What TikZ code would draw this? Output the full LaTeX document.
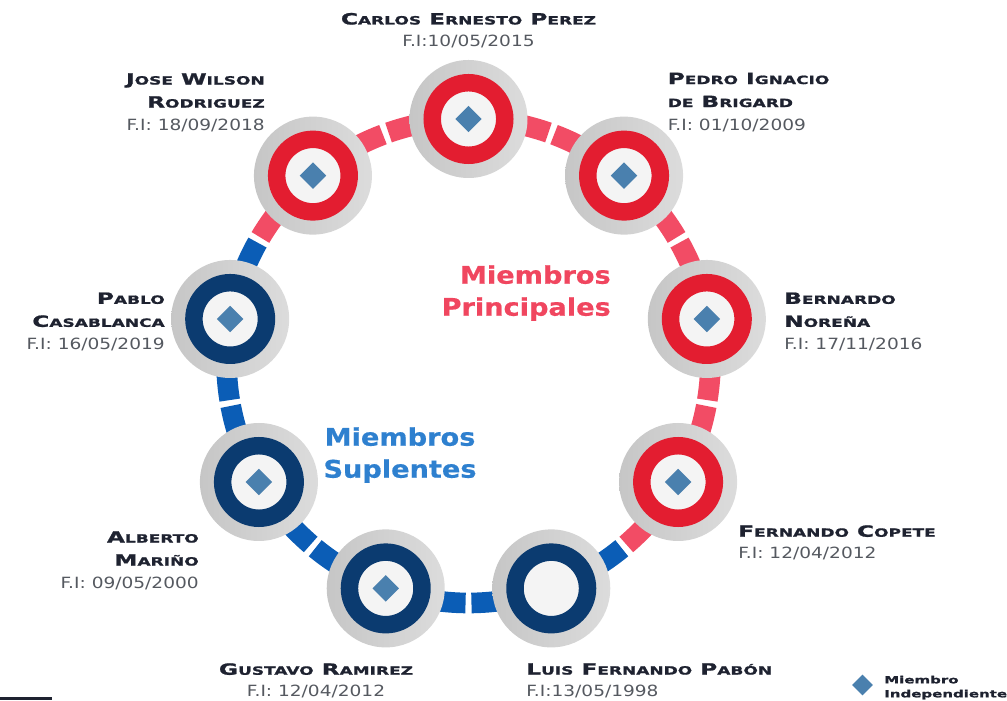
\documentclass[tikz,border=0pt]{standalone}
\usepackage{fontspec}
\setmainfont{DejaVu Sans}
\newfontfamily\namefont{DejaVu Sans}[FakeStretch=1.5,FakeBold=1.3]
\newfontfamily\datefont{DejaVu Sans}[FakeStretch=1.2]
\newfontfamily\titlefont{DejaVu Sans}[FakeStretch=1.12,FakeBold=0.6]
\usetikzlibrary{shapes.geometric,calc}

\definecolor{ringred}{HTML}{E31D30}
\definecolor{ringnavy}{HTML}{0B3B70}
\definecolor{dashred}{HTML}{F24C65}
\definecolor{dashblue}{HTML}{0B5DB6}
\definecolor{markblue}{HTML}{4A80AE}
\definecolor{discdark}{HTML}{C6C6C6}
\definecolor{discmid}{HTML}{E0E0E0}
\definecolor{disclight}{HTML}{DCDCDC}
\definecolor{innerwhite}{HTML}{F4F4F4}
\definecolor{nametext}{HTML}{1E2230}
\definecolor{datetext}{HTML}{555960}
\definecolor{titlered}{HTML}{F0465F}
\definecolor{titleblue}{HTML}{2E80CF}

% fake small caps: first letter big, rest small
\newcommand{\smc}[2]{#1{\fontsize{8.5}{10}\selectfont #2}}
\newcommand{\fidate}[1]{{\datefont\mdseries\color{datetext}\fontsize{11.6}{17}\selectfont #1}}

\begin{document}
\begin{tikzpicture}[x=0.75pt,y=0.75pt]

% --- Global TikZ Styles ---
\tikzset{
    greydisc/.style={
        circle,
        minimum size=88.5pt,
        inner sep=0pt,
        left color=discdark,
        middle color=discmid,
        right color=disclight
    },
    ringdisc/.style={
        circle,
        minimum size=54.4pt,
        inner sep=0pt,
        fill=innerwhite,
        line width=13.1pt
    },
    membermark/.style={
        diamond,
        aspect=1,
        minimum size=20pt,
        inner sep=0pt,
        fill=markblue
    },
    dashseg/.style={
        line width=15.5pt
    },
    namelabel/.style={
        font=\namefont\bfseries\fontsize{11.6}{17.25}\selectfont,
        text=nametext,
        inner sep=0pt
    },
    titlelabel/.style={
        font=\titlefont\bfseries\fontsize{18.2}{24}\selectfont,
        inner sep=0pt
    },
    legendlabel/.style={
        font=\namefont\bfseries\fontsize{7.5}{10.5}\selectfont,
        text=nametext,
        inner sep=0pt
    }
}

\useasboundingbox (0,0) rectangle (1007,700);
\coordinate (ctr) at (468.5,339);

% ==================================================
% --- Dashed ring ---
% ==================================================

\foreach \mid/\colhi/\collo in {70/dashred/dashred, 30/dashred/dashred,
    -10/dashred/dashred, -50/dashred/dashblue, -90/dashblue/dashblue,
    -130/dashblue/dashblue, 190/dashblue/dashblue, 150/dashblue/dashred,
    110/dashred/dashred}{
    \draw[dashseg, draw=\colhi]
        ($(ctr)+(\mid+0.7:242)$) arc[start angle=\mid+0.7, end angle=\mid+12, radius=242];
    \draw[dashseg, draw=\collo]
        ($(ctr)+(\mid-0.7:242)$) arc[start angle=\mid-0.7, end angle=\mid-12, radius=242];
}

% ==================================================
% --- Members ---
% ==================================================

\foreach \ang/\nm/\rc/\hasmark in {90/carlos/ringred/1, 50/pedro/ringred/1,
    10/bernardo/ringred/1, -30/fernando/ringred/1, -70/luis/ringnavy/0,
    -110/gustavo/ringnavy/1, -150/alberto/ringnavy/1, 170/pablo/ringnavy/1,
    130/jose/ringred/1}{
    \node[greydisc] (\nm) at ($(ctr)+(\ang:242)$) {};
    \node[ringdisc, draw=\rc] (\nm ring) at (\nm) {};
    \ifnum\hasmark=1
        \node[membermark] (\nm mark) at (\nm) {};
    \fi
}

% ==================================================
% --- Names ---
% ==================================================

\node[namelabel, anchor=north, align=center] (carloslabel) at (468.5,687.3)
    {\smc{C}{ARLOS} \smc{E}{RNESTO} \smc{P}{EREZ}\\[-0.8pt]\fidate{F.I:10/05/2015}};
\node[namelabel, anchor=north east, align=right] (joselabel) at (265,627)
    {\smc{J}{OSE} \smc{W}{ILSON}\\\smc{R}{ODRIGUEZ}\\\fidate{F.I: 18/09/2018}};
\node[namelabel, anchor=north west, align=left] (pedrolabel) at (667.5,627.5)
    {\smc{P}{EDRO} \smc{I}{GNACIO}\\{\fontsize{8.5}{10}\selectfont DE} \smc{B}{RIGARD}\\\fidate{F.I: 01/10/2009}};
\node[namelabel, anchor=north east, align=right] (pablolabel) at (165,407.7)
    {\smc{P}{ABLO}\\\smc{C}{ASABLANCA}\\\fidate{F.I: 16/05/2019}};
\node[namelabel, anchor=north west, align=left] (bernardolabel) at (784,407.7)
    {\smc{B}{ERNARDO}\\\smc{N}{OREÑA}\\\fidate{F.I: 17/11/2016}};
\node[namelabel, anchor=north west, align=left] (fernandolabel) at (738,175)
    {\smc{F}{ERNANDO} \smc{C}{OPETE}\\[-1pt]\fidate{F.I: 12/04/2012}};
\node[namelabel, anchor=north east, align=right] (albertolabel) at (199,169)
    {\smc{A}{LBERTO}\\\smc{M}{ARIÑO}\\\fidate{F.I: 09/05/2000}};
\node[namelabel, anchor=north, align=center] (gustavolabel) at (316,37)
    {\smc{G}{USTAVO} \smc{R}{AMIREZ}\\[-1pt]\fidate{F.I: 12/04/2012}};
\node[namelabel, anchor=north west, align=left] (luislabel) at (526,37)
    {\smc{L}{UIS} \smc{F}{ERNANDO} \smc{P}{ABÓN}\\[-1pt]\fidate{F.I:13/05/1998}};

% ==================================================
% --- Group titles ---
% ==================================================

\node[titlelabel, text=titlered, anchor=north east, align=right] (principales)
    at (611,435) {Miembros\\Principales};
\node[titlelabel, text=titleblue, anchor=north, align=center] (suplentes)
    at (400,273) {Miembros\\Suplentes};

% ==================================================
% --- Legend ---
% ==================================================

\node[membermark, minimum size=15.75pt] (legendmark) at (862.5,15) {};
\node[legendlabel, anchor=north west, align=left] (legendtext) at (884,24.5)
    {Miembro\\Independiente};

% bottom left bar
\fill[nametext] (0,0) rectangle (52,3);

\end{tikzpicture}
\end{document}
